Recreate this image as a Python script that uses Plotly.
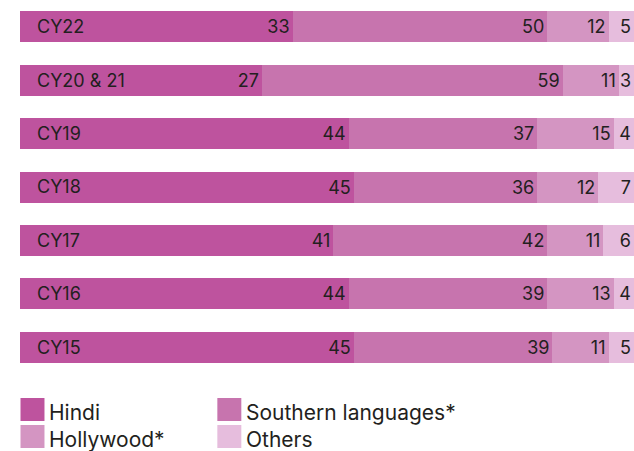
import plotly.graph_objects as go

categories = ["CY22", "CY20 & 21", "CY19", "CY18", "CY17", "CY16", "CY15"]
hindi = [33, 27, 44, 45, 41, 44, 45]
southern = [50, 59, 37, 36, 42, 39, 39]
hollywood = [12, 11, 15, 12, 11, 13, 11]
others = [5, 3, 4, 7, 6, 4, 5]

series_names = ["Hindi", "Southern languages*", "Hollywood*", "Others"]
series_values = [hindi, southern, hollywood, others]
colors = ["#BE539E", "#C774AE", "#D495C2", "#E6BDDD"]

W, H = 634, 451
ML, MR, MT, MB = 19.5, 0, 0, 77
PW, PH = W - ML - MR, H - MT - MB
LABEL_PAD = 20.5  # label area (in % units) before the bars' zero
XMAX = 100 + LABEL_PAD
SLOT = 53.4  # px per category
Y_TOP = 6.5 - PH / SLOT
FONT = "Inter"
TXT = "#231F20"

fig = go.Figure()
# label area, drawn in Hindi colour
fig.add_trace(go.Bar(
    y=categories, x=[LABEL_PAD] * len(categories), orientation="h",
    marker=dict(color=colors[0], line=dict(width=0)),
    showlegend=False, hoverinfo="skip",
))
for name, vals, col in zip(series_names, series_values, colors):
    fig.add_trace(go.Bar(
        y=categories, x=vals, name=name, orientation="h",
        marker=dict(color=col, line=dict(width=0)),
        text=[str(v) for v in vals], textposition="inside",
        insidetextanchor="end", textangle=0, constraintext="none",
        textfont=dict(family=FONT, size=18, color=TXT),
        showlegend=False, cliponaxis=False,
    ))

# custom legend (2 columns), positions given in pixels
def px2x(px):
    return (px - ML) / PW

def py2y(py):
    return (H - MB - py) / PH

shapes, annotations = [], []
legend_pos = [(20, 398), (217, 398), (20, 425), (217, 425)]
for (lx, ly), name, col in zip(legend_pos, series_names, colors):
    shapes.append(dict(type="rect", xref="paper", yref="paper",
                       x0=px2x(lx), x1=px2x(lx + 24), y0=py2y(ly), y1=py2y(ly + 23),
                       fillcolor=col, line=dict(width=0)))
    annotations.append(dict(xref="paper", yref="paper", x=px2x(lx + 27), y=py2y(ly + 14),
                            text=name, showarrow=False, xanchor="left", yanchor="middle",
                            font=dict(family=FONT, size=21, color=TXT)))

fig.update_layout(
    width=W, height=H, barmode="stack", bargap=0.42,
    margin=dict(l=ML, r=MR, t=MT, b=MB, pad=0),
    paper_bgcolor="white", plot_bgcolor="white",
    xaxis=dict(range=[0, XMAX], visible=False, fixedrange=True),
    yaxis=dict(range=[6.5, Y_TOP], showgrid=False, zeroline=False, showline=False,
               ticks="", ticklabelposition="inside", ticklabelstandoff=14,
               tickfont=dict(family=FONT, size=18, color=TXT), layer="above traces",
               fixedrange=True),
    shapes=shapes, annotations=annotations, showlegend=False,
)

fig.write_html(
    "out.html",
    config={"displayModeBar": False},
    post_script="document.body.style.margin='0';document.body.style.overflow='hidden';",
)
